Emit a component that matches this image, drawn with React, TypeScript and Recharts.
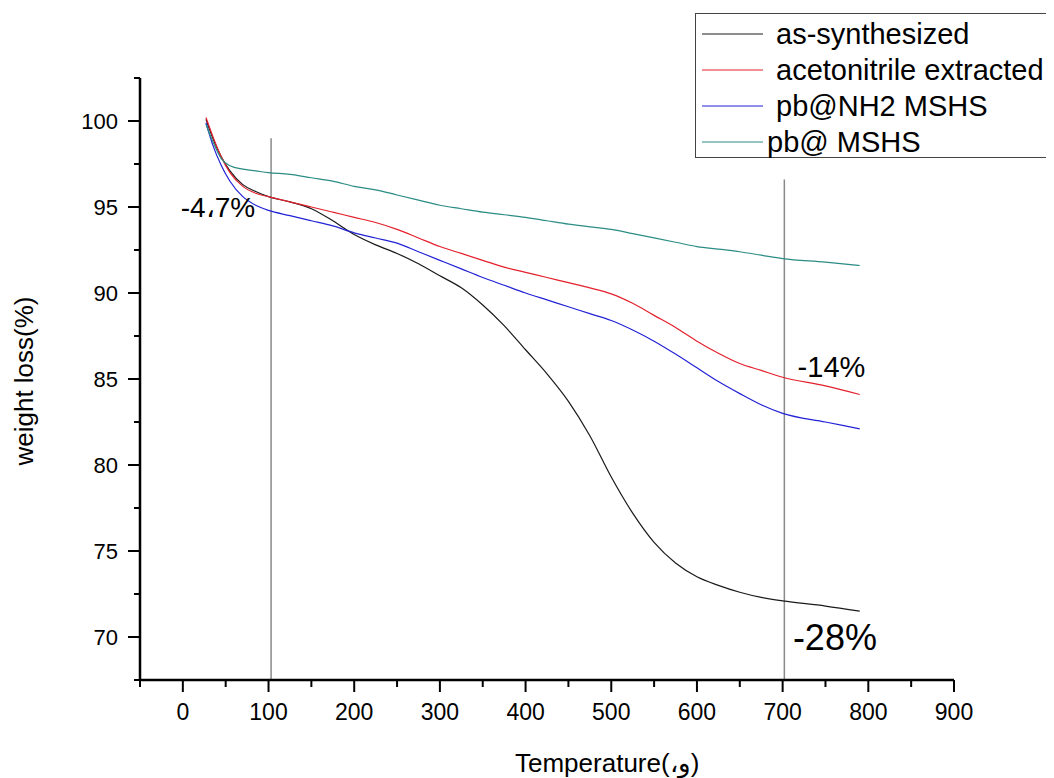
import React from "react";
import {
  LineChart,
  Line,
  XAxis,
  YAxis,
  Legend,
  Label,
  ReferenceLine,
  ReferenceDot,
} from "recharts";

// temperature (°C) sample points shared by the four TGA curves
const TEMPS = [
  27, 35, 45, 55, 70, 85, 100, 125, 150, 175, 200, 225, 250, 275, 300, 325,
  350, 375, 400, 425, 450, 475, 500, 525, 550, 575, 600, 625, 650, 675, 700,
  750, 790,
];

const AS_SYNTH = [
  100.1, 99.0, 97.9, 97.1, 96.3, 95.9, 95.6, 95.3, 94.9, 94.2, 93.4, 92.8,
  92.3, 91.7, 91.0, 90.3, 89.3, 88.1, 86.7, 85.3, 83.7, 81.7, 79.3, 77.2,
  75.5, 74.3, 73.5, 73.0, 72.6, 72.3, 72.1, 71.8, 71.5,
];
const ACN_EXTRACTED = [
  100.2, 99.1, 97.9, 97.0, 96.2, 95.8, 95.6, 95.3, 95.0, 94.7, 94.4, 94.1,
  93.7, 93.2, 92.7, 92.3, 91.9, 91.5, 91.2, 90.9, 90.6, 90.3, 89.95, 89.4,
  88.7, 88.0, 87.2, 86.5, 85.9, 85.5, 85.1, 84.6, 84.1,
];
const PB_NH2 = [
  99.9, 98.6, 97.4, 96.5, 95.6, 95.1, 94.8, 94.5, 94.2, 93.9, 93.5, 93.2,
  92.9, 92.4, 91.9, 91.4, 90.9, 90.45, 90.0, 89.6, 89.2, 88.8, 88.4, 87.85,
  87.2, 86.45, 85.65, 84.85, 84.15, 83.5, 83.0, 82.5, 82.1,
];
const PB_MSHS = [
  99.8, 98.8, 97.8, 97.4, 97.2, 97.1, 97.0, 96.9, 96.7, 96.5, 96.2, 96.0,
  95.7, 95.4, 95.1, 94.9, 94.7, 94.55, 94.4, 94.2, 94.0, 93.85, 93.7, 93.45,
  93.2, 92.95, 92.7, 92.55, 92.4, 92.2, 92.0, 91.8, 91.6,
];

const X_TICKS = [-50, 0, 50, 100, 150, 200, 250, 300, 350, 400, 450, 500, 550, 600, 650, 700, 750, 800, 850, 900];
const Y_TICKS = [67.5, 70, 72.5, 75, 77.5, 80, 82.5, 85, 87.5, 90, 92.5, 95, 97.5, 100, 102.5];

const SERIES = [
  { name: "as-synthesized", values: AS_SYNTH, color: "#1a1a1a" },
  { name: "acetonitrile extracted", values: ACN_EXTRACTED, color: "#e3202c" },
  { name: "pb@NH2 MSHS", values: PB_NH2, color: "#2323d6" },
  { name: "pb@ MSHS", values: PB_MSHS, color: "#2a8c84" },
];

const toRows = (vals: number[]) => TEMPS.map((t, i) => ({ t, w: vals[i] }));

const FONT = "'Liberation Sans', Arial, Helvetica, sans-serif";

// eslint-disable-next-line @typescript-eslint/no-explicit-any
function XTick({ x, y, payload }: any) {
  const major = payload.value % 100 === 0;
  return (
    <g>
      <line x1={x} x2={x} y1={y} y2={y + (major ? 12 : 7)} stroke="#000" strokeWidth={2} />
      {major && (
        <text x={x} y={y + 32} textAnchor="middle" dominantBaseline="central" fontSize={23} fill="#000">
          {payload.value}
        </text>
      )}
    </g>
  );
}

// eslint-disable-next-line @typescript-eslint/no-explicit-any
function YTick({ x, y, payload }: any) {
  const major = payload.value % 5 === 0;
  return (
    <g>
      <line x1={x} x2={x - (major ? 12 : 6)} y1={y} y2={y} stroke="#000" strokeWidth={2} />
      {major && (
        <text x={x - 22} y={y} textAnchor="end" dominantBaseline="central" fontSize={22} fill="#000">
          {payload.value}
        </text>
      )}
    </g>
  );
}

// eslint-disable-next-line @typescript-eslint/no-explicit-any
function XTitle(props: any) {
  const vb = props.viewBox ?? { x: 132, y: 672, width: 814, height: 90 };
  return (
    <text x={vb.x + 375} y={vb.y + vb.height + 2} textAnchor="start" fontSize={26} fill="#000">
      Temperature(،و)
    </text>
  );
}

// eslint-disable-next-line @typescript-eslint/no-explicit-any
function YTitle(props: any) {
  const vb = props.viewBox ?? { x: 0, y: 70, width: 132, height: 602 };
  const cx = vb.x + 25;
  const cy = vb.y + vb.height / 2 + 2;
  return (
    <text x={cx} y={cy} textAnchor="middle" fontSize={26} fill="#000" transform={`rotate(-90 ${cx} ${cy})`}>
      weight loss(%)
    </text>
  );
}

function LegendBox() {
  return (
    <div style={{ width: 380, height: 145, border: "1.5px solid #444", background: "#fff", boxSizing: "border-box" }}>
      <svg width={380} height={145}>
        {SERIES.map((s, i) => {
          const cy = 20 + i * 36;
          return (
            <g key={s.name}>
              <line x1={6} x2={67} y1={cy} y2={cy} stroke={s.color} strokeWidth={1.2} />
              <text
                x={i === 3 ? 71 : 80}
                y={cy}
                dominantBaseline="central"
                fontSize={29}
                fill="#000"
                fontFamily={FONT}
              >
                {s.name}
              </text>
            </g>
          );
        })}
      </svg>
    </div>
  );
}

export default function App() {
  return (
    <div style={{ width: 1046, height: 770, overflow: "hidden", position: "relative", fontFamily: FONT, background: "#fff" }}>
      <LineChart width={1046} height={770} margin={{ top: 70, right: 100, bottom: 8, left: 0 }}>
        <XAxis
          type="number"
          dataKey="t"
          domain={[-50, 900]}
          ticks={X_TICKS}
          interval={0}
          tickSize={0}
          tickMargin={0}
          tickLine={false}
          tick={<XTick />}
          axisLine={{ stroke: "#000", strokeWidth: 2.5 }}
          height={90}
          allowDataOverflow
        >
          <Label content={<XTitle />} />
        </XAxis>
        <YAxis
          type="number"
          domain={[67.5, 102.5]}
          ticks={Y_TICKS}
          interval={0}
          tickSize={0}
          tickMargin={0}
          tickLine={false}
          tick={<YTick />}
          axisLine={{ stroke: "#000", strokeWidth: 2.5 }}
          width={132}
          allowDataOverflow
        >
          <Label content={<YTitle />} />
        </YAxis>
        <Legend
          verticalAlign="middle"
          align="center"
          layout="horizontal"
          content={<LegendBox />}
          wrapperStyle={{ position: "absolute", left: 687, top: 5, width: 380, height: 145 }}
        />
        <ReferenceLine
          segment={[
            { x: 103, y: 67.5 },
            { x: 103, y: 99 },
          ]}
          stroke="#8a8a8a"
          strokeWidth={1.5}
        />
        <ReferenceLine
          segment={[
            { x: 702, y: 67.5 },
            { x: 702, y: 96.6 },
          ]}
          stroke="#8a8a8a"
          strokeWidth={1.5}
        />
        {SERIES.map((s) => (
          <Line
            key={s.name}
            name={s.name}
            data={toRows(s.values)}
            dataKey="w"
            type="monotone"
            stroke={s.color}
            strokeWidth={1.2}
            dot={false}
            activeDot={false}
            isAnimationActive={false}
          />
        ))}
        <ReferenceDot x={41} y={95} r={0} fill="none" stroke="none" label={{ value: "-4،7%", position: "center", fontSize: 28, fill: "#000" }} />
        <ReferenceDot x={757} y={85.7} r={0} fill="none" stroke="none" label={{ value: "-14%", position: "center", fontSize: 29, fill: "#000" }} />
        <ReferenceDot x={761} y={70} r={0} fill="none" stroke="none" label={{ value: "-28%", position: "center", fontSize: 36, fill: "#000" }} />
      </LineChart>
    </div>
  );
}
